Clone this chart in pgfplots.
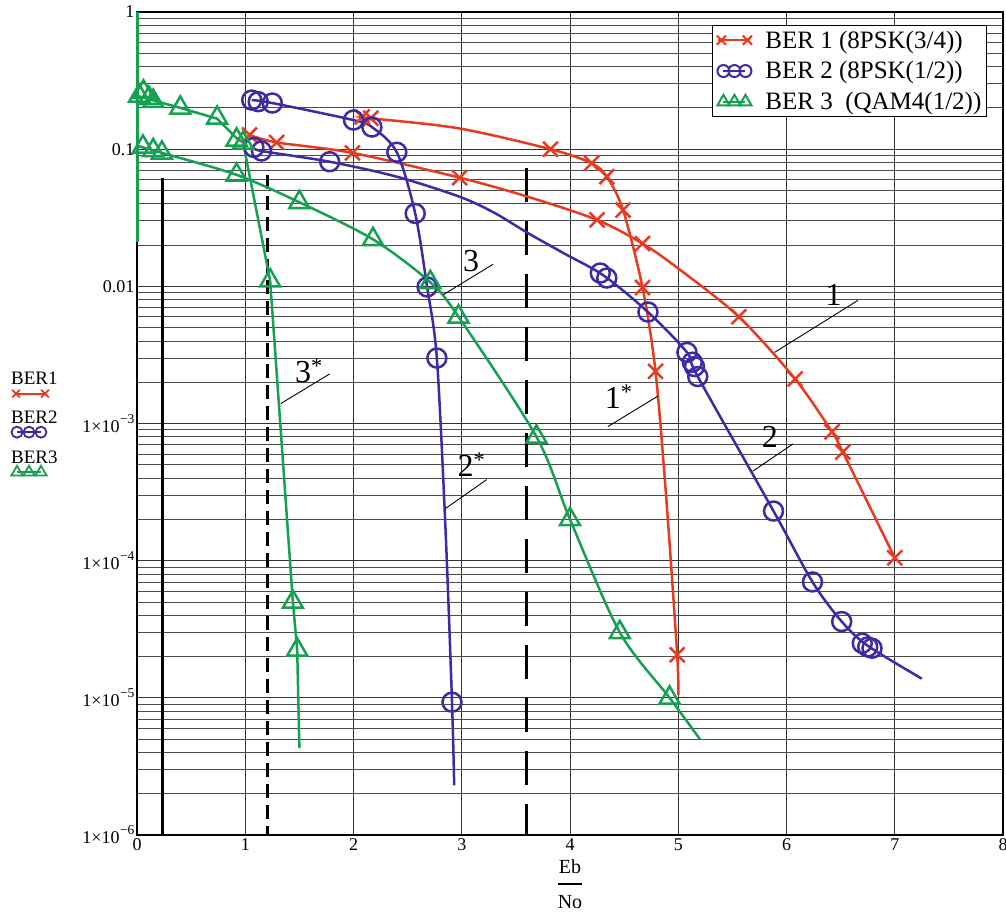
\documentclass[border=0pt]{standalone}
\usepackage{fontspec}
\setmainfont{Liberation Serif}
\usepackage{amsmath}
\usepackage{pgfplots}
\pgfplotsset{compat=1.18}
\definecolor{cR}{RGB}{232,58,32}
\definecolor{cB}{RGB}{62,42,165}
\definecolor{cG}{RGB}{22,160,82}
\newcommand{\ex}[1]{\raisebox{0.5em}{\fontsize{13.5}{14}\selectfont\kern0.5pt #1}}
\begin{document}
\begin{tikzpicture}
\path[use as bounding box] (-137pt,-83pt) rectangle (869pt,835pt);
\begin{axis}[
  at={(0pt,0pt)}, anchor=south west,
  scale only axis, width=866pt, height=823pt,
  xmin=0, xmax=8, ymode=log, ymin=1e-6, ymax=1,
  clip=false,
  xtick={0,1,2,3,4,5,6,7,8}, xticklabels={0,1,2,3,4,5,6,7,8},
  ytick={1e-6,1e-5,1e-4,1e-3,1e-2,1e-1,1},
  yticklabels={{1×10\ex{−6}},{1×10\ex{−5}},{1×10\ex{−4}},{1×10\ex{−3}},{0.01},{0.1},{1}},
  tick label style={font=\fontsize{18}{21}\selectfont},
  yticklabel style={xshift=1pt},
  major tick length=0pt, minor tick length=0pt,
  xmajorgrids, ymajorgrids, yminorgrids,
  major grid style={black!80, line width=0.9pt},
  minor grid style={black!70, line width=0.8pt},
  axis line style={line width=2pt, black},
  xlabel={$\genfrac{}{}{2pt}{0}{\mbox{Eb}\rule[-4pt]{0pt}{4pt}}{\mbox{No}\rule{0pt}{17pt}}$},
  xlabel style={at={(axis description cs:0.5,-0.0595)}, anchor=center, font=\fontsize{20}{24}\selectfont},
  legend style={at={(rel axis cs:0.9815,0.984)}, anchor=north east, draw=black, line width=1.2pt,
    font=\fontsize{25}{29}\selectfont, inner sep=4pt, row sep=10pt, fill=white,
    nodes={inner sep=1pt}},
  legend cell align=left,
]
% vertical reference lines
\addplot[forget plot, black, line width=3pt] coordinates {(0.24,0.062) (0.24,1e-6)};
\addplot[forget plot, black, line width=3pt, dash pattern=on 14pt off 7pt] coordinates {(1.21,0.065) (1.21,1e-6)};
\addplot[forget plot, black, line width=3pt, dash pattern=on 34pt off 19pt] coordinates {(3.6,0.073) (3.6,1e-6)};
% green vertical at x=0
\addplot[forget plot, cG, line width=3pt] coordinates {(0,1) (0,0.021)};

% ---- BER1 (red) curve 1
\addplot[forget plot, cR, line width=2.5pt, smooth] coordinates {
 (1.04,0.127) (1.29,0.112) (1.99,0.094) (2.98,0.062) (3.61,0.045) (4.25,0.0305) (4.67,0.0205)
 (5.0,0.0135) (5.56,0.006) (6.08,0.00211) (6.42,8.7e-4) (6.52,6.2e-4) (7.0,1.05e-4)};
\addplot[forget plot, cR, line width=2.5pt, only marks, mark=x, mark size=10.5pt] coordinates {
 (1.04,0.127) (1.29,0.112) (1.99,0.094) (2.98,0.062) (4.25,0.0305) (4.67,0.0205)
 (5.56,0.006) (6.08,0.00211) (6.42,8.7e-4) (6.52,6.2e-4) (7.0,1.05e-4)};
% curve 1*
\addplot[forget plot, cR, line width=2.5pt, smooth] coordinates {
 (2.08,0.172) (2.16,0.168) (2.97,0.142) (3.82,0.1) (4.2,0.079) (4.34,0.063) (4.49,0.036)
 (4.67,0.0098) (4.79,0.0024) (4.89,2.8e-4) (4.99,2.06e-5) (5.0,1.05e-5)};
\addplot[forget plot, cR, line width=2.5pt, only marks, mark=x, mark size=10.5pt] coordinates {
 (2.08,0.172) (2.16,0.168) (3.82,0.1) (4.2,0.079) (4.34,0.063) (4.49,0.036)
 (4.67,0.0098) (4.79,0.0024) (4.99,2.06e-5)};

% ---- BER2 (blue) curve 2*
\addplot[forget plot, cB, line width=2.5pt, smooth] coordinates {
 (1.06,0.228) (1.25,0.217) (2.0,0.163) (2.17,0.145) (2.40,0.095) (2.57,0.034) (2.68,0.0099)
 (2.77,0.003) (2.85,1.7e-4) (2.91,9.3e-6) (2.93,2.3e-6)};
\addplot[forget plot, cB, line width=2.5pt, only marks, mark=o, mark size=9.5pt] coordinates {
 (1.06,0.228) (1.12,0.222) (1.25,0.217) (2.0,0.163) (2.17,0.145) (2.40,0.095) (2.57,0.034)
 (2.68,0.0099) (2.77,0.003) (2.91,9.3e-6)};
% curve 2
\addplot[forget plot, cB, line width=2.5pt, smooth] coordinates {
 (1.08,0.103) (1.15,0.097) (1.78,0.081) (2.4,0.063) (2.98,0.045) (3.3,0.0344) (3.61,0.0245)
 (3.95,0.0173) (4.31,0.012) (4.72,0.0065)
 (5.08,0.0033) (5.18,0.0022) (5.88,2.3e-4) (6.24,7e-5) (6.51,3.6e-5) (6.75,2.4e-5) (7.25,1.38e-5)};
\addplot[forget plot, cB, line width=2.5pt, only marks, mark=o, mark size=9.5pt] coordinates {
 (1.08,0.103) (1.15,0.097) (1.78,0.081) (4.28,0.0125) (4.34,0.0115) (4.72,0.0065)
 (5.08,0.0033) (5.13,0.0028) (5.15,0.0026) (5.18,0.0022) (5.88,2.3e-4) (6.24,7e-5)
 (6.51,3.6e-5) (6.70,2.5e-5) (6.75,2.35e-5) (6.79,2.3e-5)};

% ---- BER3 (green) curve 3*
\addplot[forget plot, cG, line width=2.5pt] coordinates {
 (0,0.245) (0.4,0.2) (0.74,0.167) (0.92,0.12) (0.98,0.112) (1.23,0.011) (1.44,5e-5)
 (1.48,2.24e-5) (1.5,4.3e-6)};
\addplot[forget plot, cG, line width=2.5pt, only marks, mark=triangle, mark size=11.5pt] coordinates {
 (0.02,0.245) (0.06,0.262) (0.11,0.236) (0.15,0.224) (0.40,0.2) (0.74,0.169) (0.92,0.117)
 (0.98,0.111) (1.23,0.011) (1.44,5e-5) (1.48,2.24e-5)};
% curve 3
\addplot[forget plot, cG, line width=2.5pt, smooth] coordinates {
 (0,0.106) (0.23,0.094) (0.92,0.065) (1.5,0.041) (2.18,0.022) (2.71,0.0107) (2.97,0.006)
 (3.69,8e-4) (4.0,2e-4) (4.46,3e-5) (4.92,1e-5) (5.2,5e-6)};
\addplot[forget plot, cG, line width=2.5pt, only marks, mark=triangle, mark size=11.5pt] coordinates {
 (0.055,0.104) (0.15,0.098) (0.23,0.094) (0.92,0.065) (1.5,0.041) (2.18,0.022) (2.71,0.0107)
 (2.97,0.006) (3.69,8e-4) (4.0,2e-4) (4.46,3e-5) (4.92,1e-5)};

% curve labels
\node[anchor=base west, inner sep=0pt, font=\fontsize{32}{36}\selectfont] at (axis cs:6.36,0.00731) {1};
\node[anchor=base west, inner sep=0pt, font=\fontsize{32}{36}\selectfont] at (axis cs:4.32,0.001277) {1\textsuperscript{*}};
\node[anchor=base west, inner sep=0pt, font=\fontsize{32}{36}\selectfont] at (axis cs:5.77,6.64e-4) {2};
\node[anchor=base west, inner sep=0pt, font=\fontsize{32}{36}\selectfont] at (axis cs:2.96,4.08e-4) {2\textsuperscript{*}};
\node[anchor=base west, inner sep=0pt, font=\fontsize{32}{36}\selectfont] at (axis cs:3.01,0.01273) {3};
\node[anchor=base west, inner sep=0pt, font=\fontsize{32}{36}\selectfont] at (axis cs:1.46,0.00198) {3\textsuperscript{*}};
\draw[black, line width=0.9pt] (axis cs:6.66,0.0079) -- (axis cs:5.89,0.0033);
\draw[black, line width=0.9pt] (axis cs:4.81,0.00158) -- (axis cs:4.35,9.5e-4);
\draw[black, line width=0.9pt] (axis cs:6.06,7.1e-4) -- (axis cs:5.69,4.5e-4);
\draw[black, line width=0.9pt] (axis cs:3.23,3.9e-4) -- (axis cs:2.85,2.4e-4);
\draw[black, line width=0.9pt] (axis cs:3.29,0.0145) -- (axis cs:2.83,0.0087);
\draw[black, line width=0.9pt] (axis cs:1.78,0.0023) -- (axis cs:1.33,0.0014);

% legend
\addlegendimage{legend image code/.code={\draw[cR, line width=2pt] (0pt,0pt) -- (32pt,0pt);
  \draw[cR, line width=2pt] plot[only marks, mark=x, mark size=6.5pt] coordinates {(3pt,0pt) (29pt,0pt)};
  \path[draw=none, fill=none] (-1pt,0pt) -- (46pt,0pt);}}
\addlegendentry{BER 1 (8PSK(3/4))}
\addlegendimage{legend image code/.code={\draw[cB, line width=2pt] plot[mark=o, mark size=6pt] coordinates {(5pt,0pt) (16pt,0pt) (27pt,0pt)};
  \path[draw=none, fill=none] (-1pt,0pt) -- (46pt,0pt);}}
\addlegendentry{BER 2 (8PSK(1/2))}
\addlegendimage{legend image code/.code={\draw[cG, line width=2pt] plot[mark=triangle, mark size=7pt] coordinates {(5pt,0pt) (16pt,0pt) (27pt,0pt)};
  \path[draw=none, fill=none] (-1pt,0pt) -- (46pt,0pt);}}
\addlegendentry{BER 3\ \ (QAM4(1/2))}
\end{axis}

\begin{axis}[
  at={(0pt,0pt)}, anchor=south west,
  scale only axis, width=866pt, height=823pt,
  hide axis, xmin=0, xmax=1, ymin=0, ymax=1,
  legend style={at={(rel axis cs:-0.1455,0.5626)}, anchor=north west, draw=none, fill=none,
    inner sep=0pt, row sep=13pt, font=\fontsize{19}{22}\selectfont},
  legend cell align=left,
]
\addlegendimage{legend image code/.code={\node[anchor=base west, inner sep=0pt, font=\fontsize{19}{22}\selectfont] at (-1pt,9pt) {BER1};
  \draw[cR, line width=1.8pt] plot[mark=x, mark size=5.5pt] coordinates {(4pt,0pt) (33pt,0pt)};}}
\addlegendentry{\mbox{}}
\addlegendimage{legend image code/.code={\node[anchor=base west, inner sep=0pt, font=\fontsize{19}{22}\selectfont] at (-1pt,9pt) {BER2};
  \draw[cB, line width=1.8pt] plot[mark=o, mark size=5.5pt] coordinates {(5pt,0pt) (17pt,0pt) (29pt,0pt)};}}
\addlegendentry{\mbox{}}
\addlegendimage{legend image code/.code={\node[anchor=base west, inner sep=0pt, font=\fontsize{19}{22}\selectfont] at (-1pt,9pt) {BER3};
  \draw[cG, line width=1.8pt] plot[mark=triangle, mark size=6.5pt] coordinates {(5pt,0pt) (17pt,0pt) (29pt,0pt)};}}
\addlegendentry{\mbox{}}
\end{axis}
\end{tikzpicture}
\end{document}
